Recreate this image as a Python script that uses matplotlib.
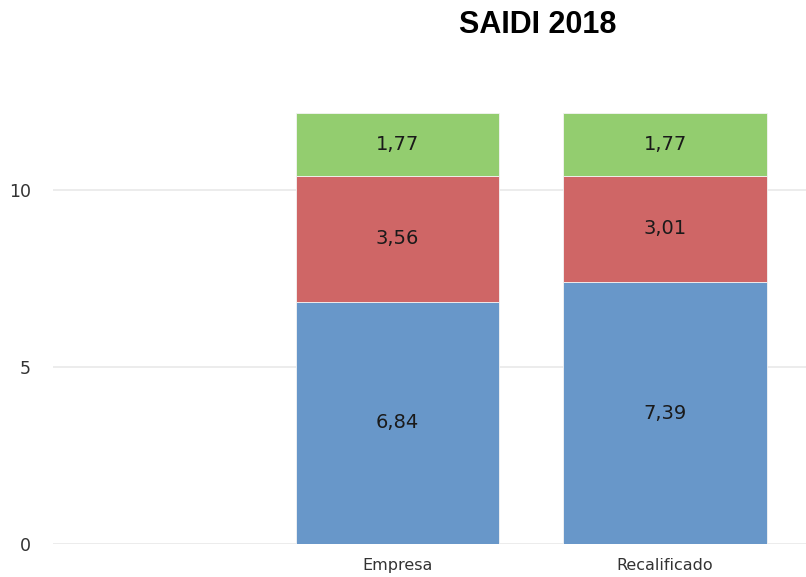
import numpy as np
import matplotlib
matplotlib.use("Agg")
import matplotlib.pyplot as plt

categorias = ["Empresa", "Recalificado"]
azul = [6.84, 7.39]
rojo = [3.56, 3.01]
verde = [1.77, 1.77]

colores = ["#6897C9", "#CF6666", "#93CD6F"]

fig = plt.figure(figsize=(8.06, 5.77), dpi=100)
ax = fig.add_axes([53 / 806, 1 - 544 / 577, 1 - 53 / 806, (544 - 113) / 577])

x = np.arange(len(categorias))
base = np.zeros(len(categorias))
for serie, color in zip([azul, rojo, verde], colores):
    bars = ax.bar(x, serie, width=0.76, bottom=base, color=color,
                  edgecolor="#f4f4f4", linewidth=0.6, zorder=3)
    for b, v, b0 in zip(bars, serie, base):
        ax.text(b.get_x() + b.get_width() / 2, b0 + v / 2,
                f"{v:.2f}".replace(".", ","), ha="center", va="center",
                fontsize=14, color="#1a1a1a", zorder=4)
    base = base + np.array(serie)

ax.set_xlim(-1.288, 1.527)
ax.set_ylim(0, 12.17)
ax.set_yticks([0, 5, 10])
ax.set_xticks(x)
ax.set_xticklabels(categorias, fontsize=11.5, color="#333333")
ax.tick_params(axis="y", labelsize=12.5, colors="#333333", length=0, pad=16)
ax.tick_params(axis="x", length=0, pad=10)
ax.grid(axis="y", color="#ebebeb", linewidth=1.3, zorder=0)
for s in ax.spines.values():
    s.set_visible(False)

fig.text(538 / 806, 1 - 25 / 577, "SAIDI 2018", ha="center", va="center",
         fontsize=22, fontweight="bold", family="Liberation Sans")

fig.savefig("out.png", dpi=100)
